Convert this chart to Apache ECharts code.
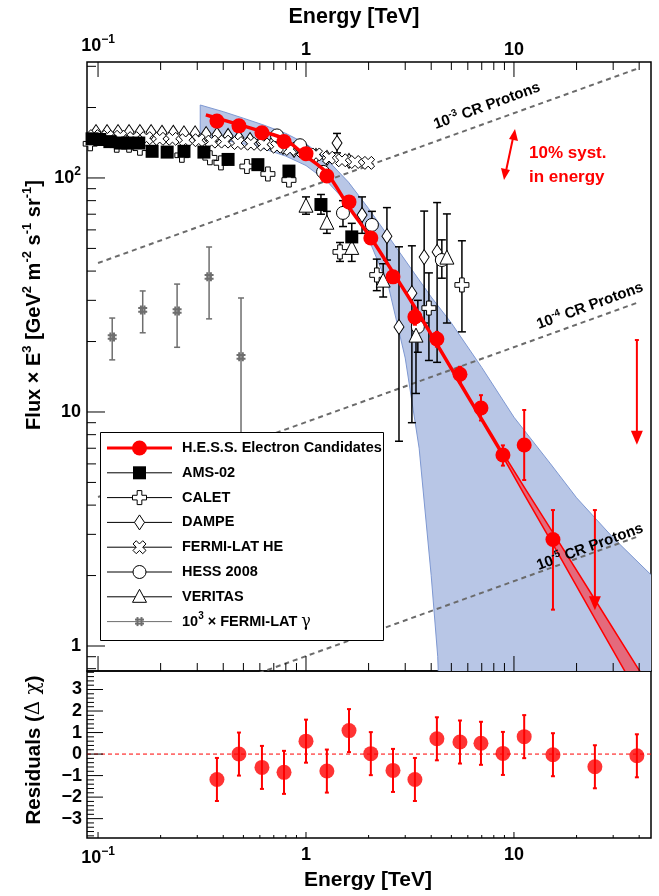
<!DOCTYPE html>
<html><head><meta charset="utf-8">
<script src="https://cdn.jsdelivr.net/npm/echarts@6/dist/echarts.min.js"></script>
<style>html,body{margin:0;padding:0;background:#fff}#c{width:659px;height:896px}</style>
</head><body><div id="c"></div><script>
// ---------------- data ----------------
const xTickMajor = [0.1, 1, 10];
const xTickMinor = [0.2,0.3,0.4,0.5,0.6,0.7,0.8,0.9,2,3,4,5,6,7,8,9,20,30,40];
const yTickMajor = [1, 10, 100];
const yTickMinor = [0.8,0.9,2,3,4,5,6,7,8,9,20,30,40,50,60,70,80,90,200,300];
const rTickMajor = [-3,-2,-1,0,1,2,3];
const rTickMinor = [-3.8,-3.6,-3.4,-3.2,-2.8,-2.6,-2.4,-2.2,-1.8,-1.6,-1.4,-1.2,-0.8,-0.6,-0.4,-0.2,0.2,0.4,0.6,0.8,1.2,1.4,1.6,1.8,2.2,2.4,2.6,2.8,3.2,3.4,3.6,3.8];

// H.E.S.S. electron candidates
const hessE  = [0.373,0.476,0.614,0.784,1.0,1.26,1.61,2.05,2.62,3.34,4.26,5.5,6.94,8.85,11.2,15.4];
const hessF  = [175,167,156,143,127,102,79,55.4,37.8,25.5,20.5,14.5,10.4,6.55,7.23,2.85];
const hessLo = [171,163,152,139,123,99,76,53,36,23.6,19.0,13.4,9.2,5.9,5.12,1.43];
const hessHi = [179,171,160,147,131,105,82,58,39.6,27.5,22.0,15.6,11.8,7.2,10.2,3.81];
const hessUlE   = [24.5, 39];
const hessUlTop = [3.81, 20.3];
const hessUlTip = [1.42, 7.24];
// residuals
const resE   = [0.373,0.476,0.614,0.784,1.0,1.26,1.61,2.05,2.62,3.34,4.26,5.5,6.94,8.85,11.2,15.4,24.5,39];
const resV   = [-1.18,0.0,-0.62,-0.85,0.6,-0.79,1.09,0.02,-0.76,-1.18,0.71,0.56,0.5,0.03,0.81,-0.03,-0.59,-0.08];
const resErr = [1,1,1,1,1,1,1,1,1,1,1,1,1,1,1,1,1,1];
// fitted model line
const modelE = [0.33,0.373,0.476,0.614,0.784,1.0,1.26,1.61,2.05,2.62,3.34,4.26,5.5,6.94,8.85];
const modelF = [186,180,169,158,147,124,105,75,55.5,39.5,28,19.5,13.3,9.42,6.56];
const statE  = [8.85,11.2,15.4,24.5,39,46];
const statLo = [6.44,4.45,2.72,1.31,0.634,0.493];
const statHi = [6.68,4.77,3.05,1.58,0.817,0.650];
// systematic band
const sysUpE = [0.31,0.4,0.5,0.63,0.8,1.0,1.26,1.6,2.0,2.5,3.2,4.0,5.0,7.0,10,15,20,30,46];
const sysUpF = [205,192,180,168,155,140,120,96,74,56,41,31,24,15.5,9.5,6,4.3,2.9,2.0];
const sysLoE = [0.31,0.4,0.5,0.63,0.8,1.0,1.26,1.6,2.0,2.5,3.0,3.5,4.0,4.3,4.4,46];
const sysLoF = [150,145,140,133,124,113,97,77,55,34,17,7,2,0.9,0.5,0.5];
// CR proton reference lines
const crE = [0.1, 40];
const cr3 = [43.3, 295];
const cr4 = [4.33, 29.5];
const cr5 = [0.433, 2.95];
// AMS-02
const amsE  = [0.0936,0.102,0.114,0.128,0.139,0.157,0.182,0.215,0.259,0.323,0.422,0.587,0.828,1.18,1.66];
const amsF  = [147,146,143,141,141,141,130,129,130,129,120,114,107,77,56];
const amsLo = [null,null,null,null,null,null,null,null,null,null,null,null,null,70,49];
const amsHi = [null,null,null,null,null,null,null,null,null,null,null,null,null,85,64];
// CALET
const calE  = [0.0917,0.123,0.141,0.159,0.253,0.345,0.390,0.520,0.656,0.828,1.457,2.19,3.90,5.62];
const calF  = [140,138,138,134,125,122,116,112,104,98,48.3,38.5,27.8,34.9];
const calLo = [null,null,null,null,null,null,null,null,null,null,44,33,16.6,22.0];
const calHi = [null,null,null,null,null,null,null,null,null,null,53,45,39.3,53.9];
// DAMPE
const dmpE  = [0.0866,0.0978,0.1105,0.1248,0.141,0.159,0.180,0.203,0.230,0.259,0.293,0.331,0.373,0.422,0.476,0.538,0.608,0.687,0.775,0.876,0.989,1.117,1.262,1.41,1.610,1.86,2.45,2.80,3.23,3.70,4.27];
const dmpF  = [157,157,157,157,157,157,157,156,156,155,155,154,153,151.2,148.2,145.3,142.5,139.8,135.7,131.7,127.9,124.2,121.8,141,118.2,69.5,56.4,23.1,32.2,45.9,48.3];
const dmpLo = [null,null,null,null,null,null,null,null,null,null,null,null,null,null,null,null,null,null,null,null,null,null,null,128,null,58,44.6,7.5,9,24.0,16.3];
const dmpHi = [null,null,null,null,null,null,null,null,null,null,null,null,null,null,null,null,null,null,null,null,null,null,null,155,null,83,74.7,50.8,51.3,72.2,78.5];
// FERMI-LAT HE
const fhE = [0.0958,0.111,0.128,0.148,0.171,0.198,0.228,0.264,0.305,0.352,0.407,0.470,0.543,0.627,0.725,0.838,0.968,1.118,1.29,1.49,1.72,1.99];
const fhF = [151,150,150,148,148,147,147,145,145,143,143,141,140,139,136,133,130,126,122,119,117,116];
// HESS 2008
const h08E = [0.725,0.936,1.208,1.506,2.075,3.45,4.50];
const h08F = [152,138,106.2,70.9,63.0,23.1,44.6];
const h08Lo = [null,null,null,62,55,18,37.3];
const h08Hi = [null,null,null,80,72,30,54.4];
// VERITAS
const verE = [1.0,1.26,1.66,2.35,3.38,4.76];
const verF = [76.5,64.7,50.5,36.6,21.3,45.9];
const verLo = [70,58,44,31,12,24.0];
const verHi = [83,72,57,43,24,70.2];
// 10^3 x FERMI-LAT gamma
const fgE  = [0.117,0.164,0.240,0.342,0.487];
const fgF  = [20.9,27.3,27.0,37.8,17.2];
const fgLo = [16.7,21.8,18.9,25.0,5.6];
const fgHi = [25.2,32.9,35.2,50.7,30.7];

// ---------------- layout constants ----------------
const X_MIN = 0.0885, X_MAX = 45.6, Y_MIN = 0.782, Y_MAX = 313, R_MIN = -3.9, R_MAX = 3.86;
const FONT = 'Liberation Sans, Arial, Helvetica, sans-serif';

const SYM_CROSS = 'path://M1,0 L2,0 L2,1 L3,1 L3,2 L2,2 L2,3 L1,3 L1,2 L0,2 L0,1 L1,1 Z';
const SYM_X = 'path://M212,0 L283,71 L212,141 L283,212 L212,283 L141,212 L71,283 L0,212 L71,141 L0,71 L71,0 L141,71 Z';
const SYM_HASH = 'path://M3,0 L3,10 M7,0 L7,10 M0,3 L10,3 M0,7 L10,7';

function pairs(a, b) { return a.map((v, i) => [v, b[i]]); }

function errSeries(E, lo, hi, color, lw, cap, xi, yi, z) {
  const data = [];
  E.forEach((e, i) => { if (lo[i] != null) data.push([e, lo[i], hi[i]]); });
  return {
    type: 'custom', xAxisIndex: xi, yAxisIndex: yi, z: z, silent: true, clip: true,
    data: data, encode: { x: 0, y: [1, 2] },
    renderItem(p, api) {
      const a = api.coord([api.value(0), api.value(1)]);
      const b = api.coord([api.value(0), api.value(2)]);
      const st = { stroke: color, lineWidth: lw };
      const ch = [{ type: 'line', shape: { x1: a[0], y1: a[1], x2: b[0], y2: b[1] }, style: st }];
      if (cap) {
        ch.push({ type: 'line', shape: { x1: a[0] - cap, y1: a[1], x2: a[0] + cap, y2: a[1] }, style: st });
        ch.push({ type: 'line', shape: { x1: b[0] - cap, y1: b[1], x2: b[0] + cap, y2: b[1] }, style: st });
      }
      return { type: 'group', children: ch };
    }
  };
}

function scatter(E, F, symbol, size, fill, stroke, bw, z) {
  return {
    type: 'scatter', xAxisIndex: 0, yAxisIndex: 0, z: z, silent: true, clip: true,
    data: pairs(E, F), symbol: symbol, symbolSize: size,
    itemStyle: { color: fill, borderColor: stroke, borderWidth: bw, opacity: 1 }
  };
}

function tickSeries(vals, kind, len, xi, yi, ref) {
  return {
    type: 'custom', xAxisIndex: xi, yAxisIndex: yi, z: 30, silent: true, clip: false,
    data: vals.map(v => (kind === 'y' ? [ref, v] : [v, ref])),
    renderItem(p, api) {
      const a = api.coord([api.value(0), api.value(1)]);
      let b;
      if (kind === 'xb') b = [a[0], a[1] - len];
      else if (kind === 'xt') b = [a[0], a[1] + len];
      else b = [a[0] + len, a[1]];
      return { type: 'line', shape: { x1: a[0], y1: a[1], x2: b[0], y2: b[1] }, style: { stroke: '#000', lineWidth: 1 } };
    }
  };
}

function bandSeries(upE, upF, loE, loF, fill, stroke, lw, z) {
  return {
    type: 'custom', xAxisIndex: 0, yAxisIndex: 0, z: z, silent: true, clip: true,
    data: [[upE[0], upF[0]]],
    renderItem(p, api) {
      const pts = [];
      upE.forEach((e, i) => pts.push(api.coord([e, upF[i]])));
      for (let i = loE.length - 1; i >= 0; i--) pts.push(api.coord([loE[i], loF[i]]));
      return { type: 'polygon', shape: { points: pts }, style: { fill: fill, stroke: stroke, lineWidth: lw } };
    }
  };
}

function logLabel(v) {
  const l = Math.log10(v);
  const r = Math.round(l);
  if (Math.abs(l - r) > 1e-6) return '';
  if (r === 0) return '{b|1}';
  if (r === 1) return '{b|10}';
  return '{b|10}{s|' + (r < 0 ? '\u2212' + (-r) : r) + '}';
}
const axRich = {
  b: { fontSize: 18, fontWeight: 'bold', fontFamily: FONT, color: '#000' },
  s: { fontSize: 12, fontWeight: 'bold', fontFamily: FONT, color: '#000', padding: [0, 0, 13, 0] }
};
const hiddenAx = { axisLine: { show: false }, axisTick: { show: false }, splitLine: { show: false } };

// ---------------- series ----------------
const series = [];
series.push(bandSeries(sysUpE, sysUpF, sysLoE, sysLoF, '#b8c6e6', '#7e98d2', 1, 1));
[cr3, cr4, cr5].forEach(c => series.push({
  type: 'line', xAxisIndex: 0, yAxisIndex: 0, z: 2, silent: true, clip: true, symbol: 'none',
  data: pairs(crE, c), lineStyle: { color: '#6b6b6b', width: 2, type: [5, 4] }
}));
series.push(errSeries(fgE, fgLo, fgHi, '#6e6e6e', 1.5, 3, 0, 0, 3));
series.push(scatter(fgE, fgF, SYM_HASH, 9, 'rgba(0,0,0,0)', '#6e6e6e', 2, 3));
series.push(errSeries(amsE, amsLo, amsHi, '#000', 1.5, 4, 0, 0, 4));
series.push(errSeries(calE, calLo, calHi, '#000', 1.5, 4, 0, 0, 4));
series.push(errSeries(dmpE, dmpLo, dmpHi, '#000', 1.5, 4, 0, 0, 4));
series.push(errSeries(h08E, h08Lo, h08Hi, '#000', 1.5, 4, 0, 0, 4));
series.push(errSeries(verE, verLo, verHi, '#000', 1.5, 4, 0, 0, 4));
series.push(scatter(dmpE, dmpF, 'diamond', [10, 15], '#fff', '#000', 1, 5));
series.push(scatter(fhE, fhF, SYM_X, 13, '#fff', '#000', 1, 5));
series.push(scatter(calE, calF, SYM_CROSS, 14, '#fff', '#000', 1, 6));
series.push(scatter(h08E, h08F, 'circle', 13, '#fff', '#000', 1, 6));
series.push(scatter(verE, verF, 'triangle', 14, '#fff', '#000', 1, 6));
series.push(scatter(amsE, amsF, 'rect', 13, '#000', '#000', 0, 7));
series.push(bandSeries(statE, statHi, statE, statLo, '#e46a7c', '#ff0000', 1.5, 8));
series.push({
  type: 'line', xAxisIndex: 0, yAxisIndex: 0, z: 8, silent: true, clip: true, symbol: 'none', smooth: 0.3,
  data: pairs(modelE, modelF), lineStyle: { color: '#ff0000', width: 3.5 }
});
series.push(errSeries(hessE, hessLo, hessHi, '#ff0000', 2, 2, 0, 0, 9));
series.push(scatter(hessE, hessF, 'circle', 15, '#ff0000', '#ff0000', 0, 10));
series.push({
  type: 'custom', xAxisIndex: 0, yAxisIndex: 0, z: 10, silent: true, clip: true,
  data: hessUlE.map((e, i) => [e, hessUlTop[i], hessUlTip[i]]),
  renderItem(p, api) {
    const a = api.coord([api.value(0), api.value(1)]);
    const b = api.coord([api.value(0), api.value(2)]);
    return { type: 'group', children: [
      { type: 'line', shape: { x1: a[0], y1: a[1], x2: b[0], y2: b[1] - 10 }, style: { stroke: '#ff0000', lineWidth: 2 } },
      { type: 'line', shape: { x1: a[0] - 2, y1: a[1], x2: a[0] + 2, y2: a[1] }, style: { stroke: '#ff0000', lineWidth: 2 } },
      { type: 'polygon', shape: { points: [[b[0] - 6, b[1] - 14], [b[0] + 6, b[1] - 14], [b[0], b[1]]] }, style: { fill: '#ff0000' } }
    ] };
  }
});
series.push({
  type: 'line', xAxisIndex: 2, yAxisIndex: 1, z: 2, silent: true, symbol: 'none',
  data: [[X_MIN, 0], [X_MAX, 0]], lineStyle: { color: '#ff0000', width: 1, type: [4, 3] }
});
series.push(errSeries(resE, resV.map((v, i) => v - resErr[i]), resV.map((v, i) => v + resErr[i]), '#ff0000', 2, 2, 2, 1, 9));
series.push({
  type: 'scatter', xAxisIndex: 2, yAxisIndex: 1, z: 10, silent: true,
  data: pairs(resE, resV), symbol: 'circle', symbolSize: 15, itemStyle: { color: '#ff0000' }
});
series.push(tickSeries(xTickMajor, 'xb', 15, 0, 0, Y_MIN));
series.push(tickSeries(xTickMinor, 'xb', 8, 0, 0, Y_MIN));
series.push(tickSeries(xTickMajor, 'xt', 15, 0, 0, Y_MAX));
series.push(tickSeries(xTickMinor, 'xt', 8, 0, 0, Y_MAX));
series.push(tickSeries(yTickMajor, 'y', 18, 0, 0, X_MIN));
series.push(tickSeries(yTickMinor, 'y', 9, 0, 0, X_MIN));
series.push(tickSeries(xTickMajor, 'xb', 6, 2, 1, R_MIN));
series.push(tickSeries(xTickMinor, 'xb', 3, 2, 1, R_MIN));
series.push(tickSeries(rTickMajor, 'y', 16, 2, 1, X_MIN));
series.push(tickSeries(rTickMinor, 'y', 7, 2, 1, X_MIN));

// ---------------- legend (graphic) ----------------
const legItems = [
  ['dot', 'H.E.S.S. Electron Candidates'], ['square', 'AMS-02'], ['cross', 'CALET'], ['diamond', 'DAMPE'],
  ['xcross', 'FERMI-LAT HE'], ['circle', 'HESS 2008'], ['triangle', 'VERITAS'], ['hash', '']
];
function legMarker(kind, cx, cy) {
  const open = { fill: '#fff', stroke: '#000', lineWidth: 1 };
  if (kind === 'dot') return [{ type: 'circle', shape: { cx, cy, r: 7.5 }, style: { fill: '#ff0000' } }];
  if (kind === 'square') return [{ type: 'rect', shape: { x: cx - 6.5, y: cy - 6.5, width: 13, height: 13 }, style: { fill: '#000' } }];
  if (kind === 'diamond') return [{ type: 'polygon', shape: { points: [[cx, cy - 7.5], [cx + 5, cy], [cx, cy + 7.5], [cx - 5, cy]] }, style: open }];
  if (kind === 'circle') return [{ type: 'circle', shape: { cx, cy, r: 6.5 }, style: open }];
  if (kind === 'triangle') return [{ type: 'polygon', shape: { points: [[cx, cy - 7.5], [cx + 7, cy + 5.5], [cx - 7, cy + 5.5]] }, style: open }];
  if (kind === 'cross') {
    const a = 2.33, b = 7;
    return [{ type: 'polygon', shape: { points: [[cx - a, cy - b], [cx + a, cy - b], [cx + a, cy - a], [cx + b, cy - a], [cx + b, cy + a], [cx + a, cy + a], [cx + a, cy + b], [cx - a, cy + b], [cx - a, cy + a], [cx - b, cy + a], [cx - b, cy - a], [cx - a, cy - a]] }, style: open }];
  }
  if (kind === 'xcross') {
    const p = [[212,0],[283,71],[212,141],[283,212],[212,283],[141,212],[71,283],[0,212],[71,141],[0,71],[71,0],[141,71]];
    return [{ type: 'polygon', shape: { points: p.map(q => [cx - 6.5 + q[0] * 13 / 283, cy - 6.5 + q[1] * 13 / 283]) }, style: open }];
  }
  const g = { stroke: '#6e6e6e', lineWidth: 2 };
  return [
    { type: 'line', shape: { x1: cx - 2, y1: cy - 4.5, x2: cx - 2, y2: cy + 4.5 }, style: g },
    { type: 'line', shape: { x1: cx + 2, y1: cy - 4.5, x2: cx + 2, y2: cy + 4.5 }, style: g },
    { type: 'line', shape: { x1: cx - 4.5, y1: cy - 2, x2: cx + 4.5, y2: cy - 2 }, style: g },
    { type: 'line', shape: { x1: cx - 4.5, y1: cy + 2, x2: cx + 4.5, y2: cy + 2 }, style: g }
  ];
}
const legend = [{ type: 'rect', shape: { x: 100.5, y: 432.5, width: 283, height: 208 }, style: { fill: '#fff', stroke: '#000', lineWidth: 1 } }];
legItems.forEach((it, i) => {
  const cy = 448 + i * 24.8;
  const col = it[0] === 'dot' ? '#ff0000' : (it[0] === 'hash' ? '#6e6e6e' : '#000');
  legend.push({ type: 'line', shape: { x1: 107, y1: cy, x2: 172, y2: cy }, style: { stroke: col, lineWidth: it[0] === 'dot' ? 3 : 1 } });
  legMarker(it[0], 139.5, cy).forEach(m => legend.push(m));
  if (it[0] === 'hash') {
    legend.push({ type: 'text', x: 182, y: cy, style: { text: '{t|10}{s|3}{t| \u00d7 FERMI-LAT }{g|\u03b3}', verticalAlign: 'middle',
      rich: { t: { fontSize: 14.5, fontWeight: 'bold', fontFamily: FONT }, s: { fontSize: 10, fontWeight: 'bold', fontFamily: FONT, padding: [0, 0, 10, 0] }, g: { fontSize: 16, fontFamily: 'DejaVu Serif, serif' } } } });
  } else {
    legend.push({ type: 'text', x: 182, y: cy, style: { text: it[1], font: 'bold 14.5px ' + FONT, verticalAlign: 'middle', fill: '#000' } });
  }
});

const crLabel = (x, y, exp) => ({
  type: 'text', x: x, y: y, rotation: 20 * Math.PI / 180,
  style: { text: '{t|10}{s|' + exp + '}{t| CR Protons}', align: 'center', verticalAlign: 'middle',
    rich: { t: { fontSize: 15, fontWeight: 'bold', fontFamily: FONT, fill: '#000' }, s: { fontSize: 10, fontWeight: 'bold', fontFamily: FONT, padding: [0, 0, 9, 0] } } }
});
const supRich = {
  t: { fontSize: 20, fontWeight: 'bold', fontFamily: FONT },
  s: { fontSize: 13, fontWeight: 'bold', fontFamily: FONT, padding: [0, 0, 14, 0] }
};
const graphics = [
  { type: 'text', x: 354, y: 17, style: { text: 'Energy [TeV]', font: 'bold 21.5px ' + FONT, align: 'center', verticalAlign: 'middle' } },
  { type: 'text', x: 368, y: 880, style: { text: 'Energy [TeV]', font: 'bold 21px ' + FONT, align: 'center', verticalAlign: 'middle' } },
  { type: 'text', x: 34, y: 305, rotation: Math.PI / 2,
    style: { text: '{t|Flux \u00d7 E}{s|3}{t| [GeV}{s|2}{t| m}{s|-2}{t| s}{s|-1}{t| sr}{s|-1}{t|]}', align: 'center', verticalAlign: 'middle', rich: supRich } },
  { type: 'text', x: 34, y: 750, rotation: Math.PI / 2,
    style: { text: '{t|Residuals (}{g|\u0394 \u03c7}{t|)}', align: 'center', verticalAlign: 'middle',
      rich: { t: { fontSize: 20.5, fontWeight: 'bold', fontFamily: FONT }, g: { fontSize: 20, fontFamily: 'DejaVu Serif, serif' } } } },
  crLabel(487, 106, '-3'), crLabel(590, 306, '-4'), crLabel(590, 547, '-5'),
  { type: 'text', x: 529, y: 153, style: { text: '10% syst.', font: 'bold 17px ' + FONT, fill: '#ff0000', verticalAlign: 'middle' } },
  { type: 'text', x: 529, y: 177, style: { text: 'in energy', font: 'bold 17px ' + FONT, fill: '#ff0000', verticalAlign: 'middle' } },
  { type: 'line', shape: { x1: 513, y1: 138, x2: 506, y2: 171 }, style: { stroke: '#ff0000', lineWidth: 2 } },
  { type: 'polygon', shape: { points: [[515, 129], [518, 141], [509, 139]] }, style: { fill: '#ff0000' } },
  { type: 'polygon', shape: { points: [[504, 180], [501, 168], [510, 170]] }, style: { fill: '#ff0000' } }
].concat(legend);
graphics.forEach(g => { g.z = 100; });

const option = {
  animation: false,
  backgroundColor: '#fff',
  grid: [
    { left: 87, top: 62, width: 564, height: 609, show: true, borderColor: '#000', borderWidth: 1.5, backgroundColor: 'transparent' },
    { left: 87, top: 671, width: 564, height: 167, show: true, borderColor: '#000', borderWidth: 1.5, backgroundColor: 'transparent' }
  ],
  xAxis: [
    Object.assign({ type: 'log', gridIndex: 0, min: X_MIN, max: X_MAX, position: 'bottom', axisLabel: { show: false } }, hiddenAx),
    Object.assign({ type: 'log', gridIndex: 0, min: X_MIN, max: X_MAX, position: 'top',
      axisLabel: { show: true, margin: 3, formatter: logLabel, rich: axRich, showMinLabel: false, showMaxLabel: false } }, hiddenAx),
    Object.assign({ type: 'log', gridIndex: 1, min: X_MIN, max: X_MAX, position: 'bottom',
      axisLabel: { show: true, margin: 8, formatter: logLabel, rich: axRich, showMinLabel: false, showMaxLabel: false } }, hiddenAx)
  ],
  yAxis: [
    Object.assign({ type: 'log', gridIndex: 0, min: Y_MIN, max: Y_MAX,
      axisLabel: { show: true, margin: 6, formatter: logLabel, rich: axRich, showMinLabel: false, showMaxLabel: false } }, hiddenAx),
    Object.assign({ type: 'value', gridIndex: 1, min: R_MIN, max: R_MAX, splitNumber: 8,
      axisLabel: { show: true, margin: 5, fontSize: 18, fontWeight: 'bold', fontFamily: FONT, color: '#000',
        showMinLabel: false, showMaxLabel: false,
        formatter: v => (Math.abs(v - Math.round(v)) < 1e-6 && Math.abs(v) <= 3 ? (v < 0 ? '\u2212' + (-v) : '' + v) : '') } }, hiddenAx)
  ],
  series: series,
  graphic: graphics
};
const chart = echarts.init(document.getElementById('c'));
chart.setOption(option);
</script></body></html>
